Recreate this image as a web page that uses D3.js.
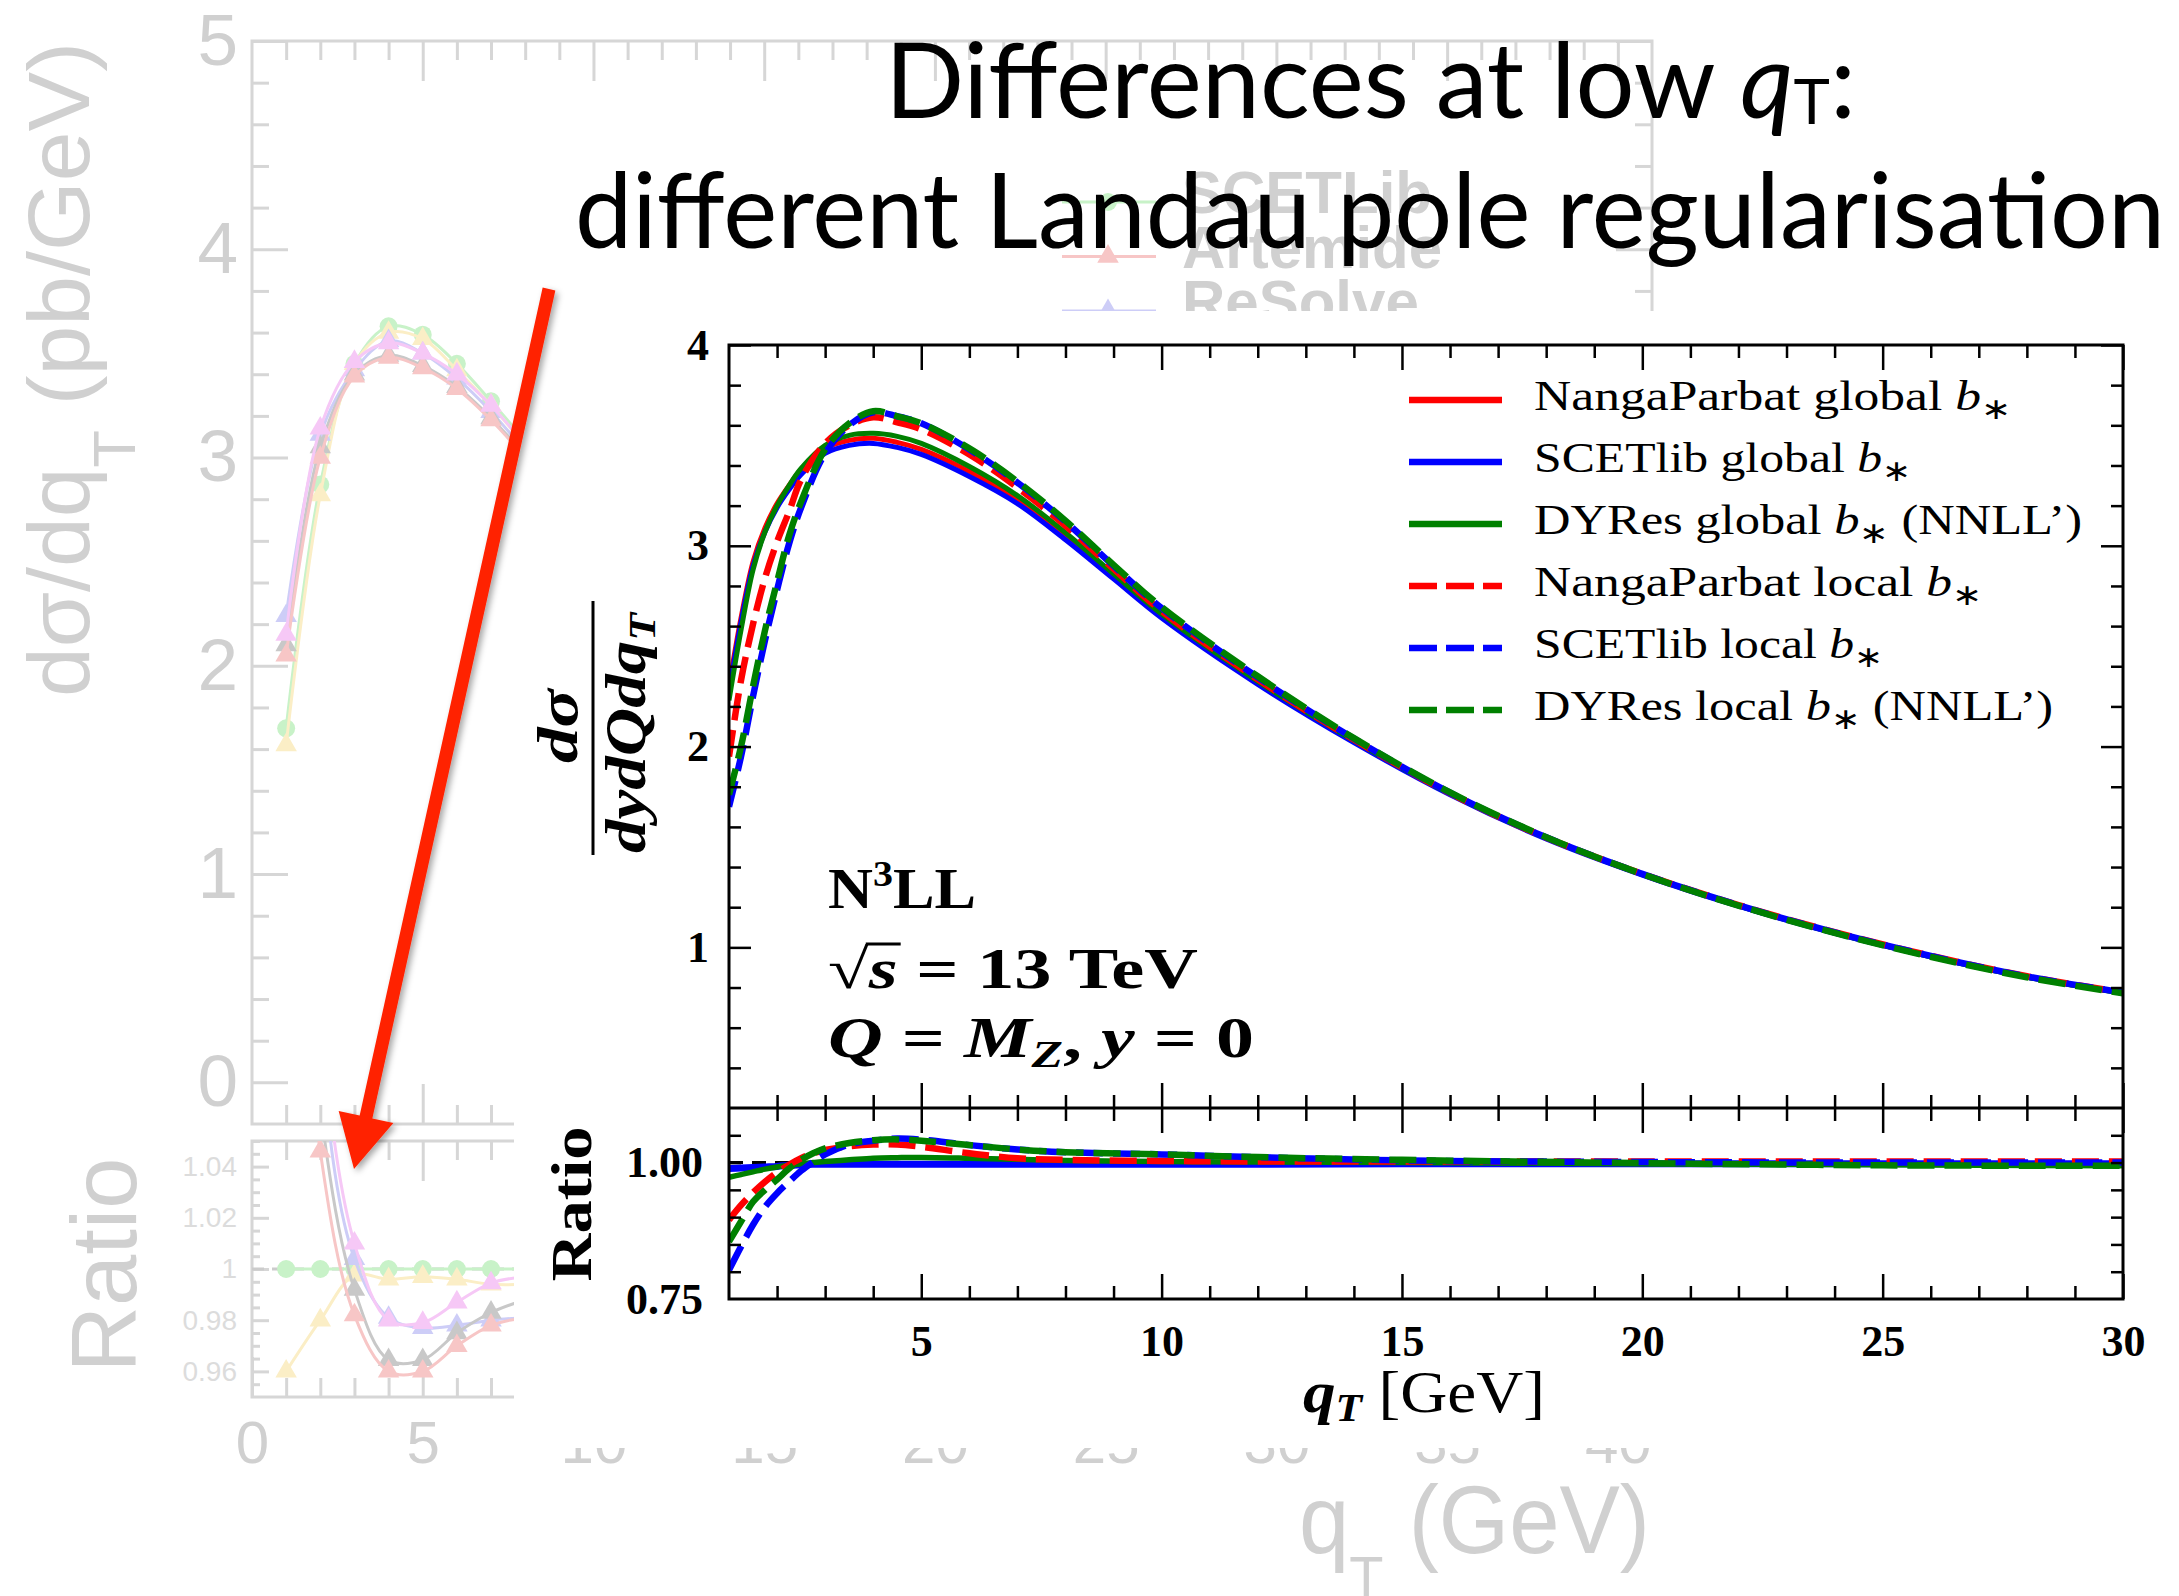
<!DOCTYPE html>
<html><head><meta charset="utf-8">
<script src="https://cdn.jsdelivr.net/npm/d3@7"></script>
<style>html,body{margin:0;padding:0;background:#fff;}svg{display:block;}</style>
</head><body>
<svg id="c" width="2179" height="1596"></svg>
<script>
// ================= DATA : main figure =================
const qT = [1, 1.25, 1.5, 1.75, 2, 2.25, 2.5, 3, 3.5, 4, 4.5, 5, 6, 7, 8, 9, 10, 12, 14, 16, 18, 20, 22, 24, 26, 28, 30];
const npGlobal    = [2.30, 2.64, 2.92, 3.09, 3.21, 3.30, 3.38, 3.485, 3.525, 3.535, 3.515, 3.48, 3.37, 3.23, 3.05, 2.85, 2.65, 2.32, 2.03, 1.765, 1.545, 1.365, 1.21, 1.075, 0.957, 0.855, 0.775];
const scetGlobal  = [2.27, 2.62, 2.90, 3.07, 3.19, 3.28, 3.355, 3.46, 3.50, 3.51, 3.49, 3.455, 3.345, 3.21, 3.03, 2.835, 2.64, 2.31, 2.02, 1.76, 1.54, 1.36, 1.205, 1.07, 0.953, 0.852, 0.772];
const dyresGlobal = [2.23, 2.58, 2.88, 3.07, 3.20, 3.30, 3.385, 3.50, 3.55, 3.56, 3.545, 3.51, 3.395, 3.25, 3.065, 2.86, 2.66, 2.325, 2.03, 1.765, 1.545, 1.363, 1.207, 1.071, 0.953, 0.851, 0.771];
const npLocal     = [1.95, 2.33, 2.61, 2.84, 3.02, 3.17, 3.33, 3.51, 3.60, 3.64, 3.615, 3.58, 3.455, 3.29, 3.10, 2.885, 2.675, 2.335, 2.035, 1.768, 1.547, 1.366, 1.211, 1.076, 0.958, 0.856, 0.776];
const scetLocal   = [1.70, 1.95, 2.25, 2.53, 2.78, 3.01, 3.19, 3.46, 3.60, 3.665, 3.645, 3.61, 3.48, 3.315, 3.12, 2.90, 2.69, 2.345, 2.04, 1.77, 1.548, 1.366, 1.21, 1.075, 0.957, 0.855, 0.775];
const dyresLocal  = [1.76, 2.00, 2.30, 2.58, 2.82, 3.05, 3.22, 3.48, 3.61, 3.67, 3.645, 3.61, 3.485, 3.32, 3.125, 2.905, 2.695, 2.35, 2.042, 1.772, 1.549, 1.365, 1.208, 1.072, 0.953, 0.851, 0.771];

const qTRatio = [1, 1.25, 1.5, 1.75, 2, 2.25, 2.5, 2.75, 3, 3.5, 4, 4.5, 5, 6, 7, 8, 10, 12, 15, 20, 25, 30];
const ratioScetGlobal  = [0.989, 0.990, 0.991, 0.992, 0.993, 0.995, 0.996, 0.997, 0.997, 0.997, 0.997, 0.997, 0.997, 0.997, 0.997, 0.997, 0.997, 0.997, 0.998, 0.998, 0.998, 0.998];
const ratioDyresGlobal = [0.973, 0.978, 0.983, 0.988, 0.992, 0.995, 0.998, 1.000, 1.002, 1.005, 1.008, 1.009, 1.0095, 1.008, 1.006, 1.004, 1.002, 1.001, 1.000, 0.998, 0.996, 0.994];
const ratioNPLocal     = [0.895, 0.922, 0.945, 0.965, 0.982, 0.996, 1.008, 1.017, 1.023, 1.030, 1.033, 1.033, 1.029, 1.017, 1.008, 1.005, 1.003, 1.002, 1.002, 1.002, 1.002, 1.002];
const ratioScetLocal   = [0.803, 0.846, 0.886, 0.919, 0.944, 0.965, 0.985, 1.001, 1.015, 1.033, 1.040, 1.044, 1.042, 1.032, 1.024, 1.019, 1.015, 1.010, 1.004, 1.001, 1.000, 1.000];
const ratioDyresLocal  = [0.855, 0.892, 0.928, 0.950, 0.969, 0.989, 1.005, 1.017, 1.026, 1.036, 1.041, 1.0425, 1.040, 1.032, 1.024, 1.019, 1.015, 1.010, 1.005, 0.999, 0.995, 0.994];
const ratioReference = 1.0;

const xTicksMain = [5, 10, 15, 20, 25, 30];
const yTicksMain = [1, 2, 3, 4];
const ratioTickLabels = [0.75, 1.00];
const ratioMinorTicks = [0.8, 0.85, 0.9, 0.95, 1.0, 1.05];
const legendNames = ["NangaParbat global", "SCETlib global", "DYRes global", "NangaParbat local", "SCETlib local", "DYRes local"];
const legendSuffix = ["", "", " (NNLL\u2019)", "", "", " (NNLL\u2019)"];

// ================= DATA : faded background figure =================
const bgQT = [1, 2, 3, 4, 5, 6, 7, 8];
const bgSCETlib  = [1.70, 2.87, 3.45, 3.63, 3.59, 3.45, 3.27, 3.08];
const bgYellow   = [1.62, 2.82, 3.45, 3.60, 3.57, 3.42, 3.25, 3.06];
const bgBlue     = [2.24, 3.11, 3.42, 3.56, 3.50, 3.38, 3.22, 3.03];
const bgPink     = [2.15, 3.14, 3.46, 3.55, 3.50, 3.40, 3.25, 3.06];
const bgGrey     = [2.10, 3.05, 3.40, 3.49, 3.44, 3.34, 3.19, 3.01];
const bgRed      = [2.05, 3.00, 3.39, 3.48, 3.43, 3.33, 3.18, 3.00];
const bgRatioSCETlib = [1, 1, 1, 1, 1, 1, 1, 1];
const bgRatioYellow  = [0.960, 0.980, 0.9975, 0.996, 0.997, 0.996, 0.994, 0.994];
const bgRatioBlue    = [1.32, 1.084, 1.004, 0.981, 0.977, 0.978, 0.980, 0.981];
const bgRatioPink    = [1.26, 1.094, 1.010, 0.980, 0.979, 0.987, 0.9945, 0.997];
const bgRatioGrey    = [1.24, 1.063, 0.992, 0.9645, 0.9645, 0.975, 0.983, 0.988];
const bgRatioRed     = [1.21, 1.046, 0.982, 0.960, 0.960, 0.970, 0.978, 0.981];
const bgXTicks = [0, 5, 10, 15, 20, 25, 30, 35, 40];
const bgYTicks = [0, 1, 2, 3, 4, 5];
const bgRatioTicks = [0.96, 0.98, 1, 1.02, 1.04];
const bgLegend = ["SCETLib", "Artemide", "ReSolve"];

// ================= DRAWING =================
const svg = d3.select("#c");
const SERIF = "'Liberation Serif','Times New Roman',serif";
const SANS = "'Liberation Sans',Arial,Helvetica,sans-serif";
const RED = "#ff0000", BLUE = "#0000ff", GREEN = "#008000";
const defs = svg.append("defs");

function styleAxis(g, o) {
  g.select(".domain").remove();
  g.attr("font-family", null).attr("font-size", null);
  g.selectAll(".tick line").attr("stroke", o.color).attr("stroke-width", o.sw);
  g.selectAll(".tick text").attr("fill", o.tc || o.color)
    .style("font-family", o.font || SERIF).style("font-size", (o.fs || 40) + "px")
    .style("font-weight", o.fw || "normal");
  return g;
}
const notInt = (v, step) => Math.abs(v / step - Math.round(v / step)) > 1e-6;

// ---------- background figure (faded) ----------
const GC = "#d6d6d6", GT = "#d0d0d0";
const gx = d3.scaleLinear().domain([0, 41]).range([252, 1652]);
const gy = d3.scaleLinear().domain([-0.2, 5]).range([1124, 41]);
const gr = d3.scaleLinear().domain([0.95, 1.05]).range([1397, 1141]);
const bg = svg.append("g");

bg.append("rect").attr("x", gx(0)).attr("y", gy(5)).attr("width", gx(41) - gx(0)).attr("height", gy(-0.2) - gy(5))
  .attr("fill", "none").attr("stroke", GC).attr("stroke-width", 3);
bg.append("rect").attr("x", gx(0)).attr("y", gr(1.05)).attr("width", gx(41) - gx(0)).attr("height", gr(0.95) - gr(1.05))
  .attr("fill", "none").attr("stroke", GC).attr("stroke-width", 3);

const gMinorY = d3.range(-0.2, 5.001, 0.2).filter(v => notInt(v, 1) && v > -0.1);
const gMinorX = d3.range(1, 41).filter(v => v % 5 !== 0);
const gMajX = d3.range(5, 41, 5);
const gso = { color: GC, sw: 3, tc: GT, font: SANS };
styleAxis(bg.append("g").attr("transform", `translate(${gx(0)},0)`).call(d3.axisLeft(gy).tickValues(bgYTicks).tickSize(-36).tickPadding(14).tickFormat(d3.format("d"))), { ...gso, fs: 73 });
styleAxis(bg.append("g").attr("transform", `translate(${gx(0)},0)`).call(d3.axisLeft(gy).tickValues(gMinorY).tickSize(-17).tickFormat("")), gso);
styleAxis(bg.append("g").attr("transform", `translate(${gx(41)},0)`).call(d3.axisRight(gy).tickValues(bgYTicks).tickSize(-36).tickFormat("")), gso);
styleAxis(bg.append("g").attr("transform", `translate(${gx(41)},0)`).call(d3.axisRight(gy).tickValues(gMinorY).tickSize(-17).tickFormat("")), gso);
[[gy(5), d3.axisTop], [gy(-0.2), d3.axisBottom], [gr(1.05), d3.axisTop]].forEach(([y, A]) => {
  styleAxis(bg.append("g").attr("transform", `translate(0,${y})`).call(A(gx).tickValues(gMajX).tickSize(-40).tickFormat("")), gso);
  styleAxis(bg.append("g").attr("transform", `translate(0,${y})`).call(A(gx).tickValues(gMinorX).tickSize(-19).tickFormat("")), gso);
});
styleAxis(bg.append("g").attr("transform", `translate(0,${gr(0.95)})`).call(d3.axisBottom(gx).tickValues(bgXTicks).tickSize(-40).tickPadding(23).tickFormat(d3.format("d"))), { ...gso, fs: 60 });
styleAxis(bg.append("g").attr("transform", `translate(0,${gr(0.95)})`).call(d3.axisBottom(gx).tickValues(gMinorX).tickSize(-19).tickFormat("")), gso);
styleAxis(bg.append("g").attr("transform", `translate(${gx(0)},0)`).call(d3.axisLeft(gr).tickValues(bgRatioTicks).tickSize(-17).tickPadding(15).tickFormat(d => d === 1 ? "1" : d.toFixed(2))), { ...gso, fs: 28, tc: "#dcdcdc" });
styleAxis(bg.append("g").attr("transform", `translate(${gx(0)},0)`).call(d3.axisLeft(gr).tickValues(d3.range(0.955, 1.05, 0.005).filter(v => notInt(v, 0.02))).tickSize(-8).tickFormat("")), gso);

// background titles
bg.append("text").attr("transform", "translate(89,697) rotate(-90)").attr("fill", GT)
  .style("font-family", SANS).style("font-size", "88px").attr("textLength", 655).attr("lengthAdjust", "spacingAndGlyphs")
  .call(t => { t.append("tspan").text("d\u03c3/dq"); t.append("tspan").attr("dy", 46).style("font-size", "60px").text("T");
               t.append("tspan").attr("dy", -46).text(" (pb/GeV)"); });
bg.append("text").attr("transform", "translate(136,1265) rotate(-90)").attr("text-anchor", "middle").attr("fill", GT)
  .style("font-family", SANS).style("font-size", "92px").text("Ratio");
bg.append("text").attr("x", 1299).attr("y", 1553).attr("fill", GT).style("font-family", SANS).style("font-size", "97px")
  .attr("textLength", 351).attr("lengthAdjust", "spacingAndGlyphs")
  .call(t => { t.append("tspan").text("q"); t.append("tspan").attr("dy", 45).style("font-size", "60px").text("T");
               t.append("tspan").attr("dy", -45).text(" (GeV)"); });

// background curves
defs.append("clipPath").attr("id", "bgclipTop").append("rect").attr("x", gx(0)).attr("y", gy(5)).attr("width", gx(41) - gx(0)).attr("height", gy(-0.2) - gy(5));
defs.append("clipPath").attr("id", "bgclipRat").append("rect").attr("x", gx(0)).attr("y", gr(1.05)).attr("width", gx(41) - gx(0)).attr("height", gr(0.95) - gr(1.05));
bg.append("line").attr("x1", gx(0)).attr("x2", gx(41)).attr("y1", gr(1)).attr("y2", gr(1))
  .attr("stroke", "#cccccc").attr("stroke-width", 3).attr("stroke-dasharray", "12,8");
const bgSeries = [
  { v: bgSCETlib, r: bgRatioSCETlib, c: "#c8f2c8", m: "circle" },
  { v: bgYellow, r: bgRatioYellow, c: "#fbeec6", m: "tri" },
  { v: bgBlue, r: bgRatioBlue, c: "#cdcdf7", m: "tri" },
  { v: bgGrey, r: bgRatioGrey, c: "#c8c8c8", m: "tri" },
  { v: bgRed, r: bgRatioRed, c: "#f7c6c6", m: "tri" },
  { v: bgPink, r: bgRatioPink, c: "#f6c8f6", m: "tri" }
];
const tri = d3.symbol().type(d3.symbolTriangle).size(200);
function bgDraw(layer, arr, ys, s) {
  const pts = bgQT.map((q, i) => [gx(q), ys(arr[i])]);
  layer.append("path").attr("d", d3.line().curve(d3.curveCatmullRom)(pts)).attr("fill", "none").attr("stroke", s.c).attr("stroke-width", 3);
  pts.forEach(p => {
    if (s.m === "circle") layer.append("circle").attr("cx", p[0]).attr("cy", p[1]).attr("r", 9).attr("fill", s.c);
    else layer.append("path").attr("d", tri).attr("transform", `translate(${p[0]},${p[1]})`).attr("fill", s.c);
  });
}
const bgTop = bg.append("g").attr("clip-path", "url(#bgclipTop)");
const bgRat = bg.append("g").attr("clip-path", "url(#bgclipRat)");
bgSeries.forEach(s => { bgDraw(bgTop, s.v, gy, s); bgDraw(bgRat, s.r, gr, s); });

// background legend
const bgLegCol = ["#c8f2c8", "#f7c6c6", "#cdcdf7"];
bgLegend.forEach((name, i) => {
  const yb = 213 + i * 54.5;
  bg.append("line").attr("x1", 1062).attr("x2", 1156).attr("y1", yb - 11).attr("y2", yb - 11).attr("stroke", bgLegCol[i]).attr("stroke-width", 3);
  if (i === 0) bg.append("circle").attr("cx", 1108).attr("cy", yb - 11).attr("r", 9).attr("fill", bgLegCol[i]);
  else bg.append("path").attr("d", tri).attr("transform", `translate(1108,${yb - 11})`).attr("fill", bgLegCol[i]);
  bg.append("text").attr("x", 1182).attr("y", yb).attr("fill", GT).style("font-family", SANS)
    .style("font-weight", "bold").style("font-size", "60px").text(name);
});

// ---------- white panel of the main figure ----------
svg.append("rect").attr("x", 514).attr("y", 311).attr("width", 2179 - 514).attr("height", 1448 - 311).attr("fill", "#ffffff");

// ---------- main figure ----------
const xM = d3.scaleLinear().domain([1, 30]).range([729, 2123]);
const yM = d3.scaleLinear().domain([0.2, 4]).range([1108, 345]);
const yR = d3.scaleLinear().domain([0.75, 1.10]).range([1299, 1108]);
const mg = svg.append("g");
defs.append("clipPath").attr("id", "clipM").append("rect").attr("x", xM(1)).attr("y", yM(4)).attr("width", xM(30) - xM(1)).attr("height", yM(0.2) - yM(4));
defs.append("clipPath").attr("id", "clipR").append("rect").attr("x", xM(1)).attr("y", yR(1.10)).attr("width", xM(30) - xM(1)).attr("height", yR(0.75) - yR(1.10));

const DASH = "27,10";
mg.append("line").attr("x1", xM(1)).attr("x2", xM(30)).attr("y1", yR(ratioReference)).attr("y2", yR(ratioReference))
  .attr("stroke", "#000").attr("stroke-width", 3).attr("stroke-dasharray", "14,9");

const mainSeries = [
  { v: npGlobal, c: RED, d: false }, { v: scetGlobal, c: BLUE, d: false }, { v: dyresGlobal, c: GREEN, d: false },
  { v: npLocal, c: RED, d: true }, { v: scetLocal, c: BLUE, d: true }, { v: dyresLocal, c: GREEN, d: true }
];
const lineM = d3.line().x((d, i) => xM(qT[i])).y(d => yM(d)).curve(d3.curveCatmullRom);
const gM = mg.append("g").attr("clip-path", "url(#clipM)");
mainSeries.forEach(s => {
  gM.append("path").attr("d", lineM(s.v)).attr("fill", "none").attr("stroke", s.c)
    .attr("stroke-width", s.d ? 6.5 : 5).attr("stroke-dasharray", s.d ? DASH : null);
});
const ratioSeries = [
  { v: ratioScetGlobal, c: BLUE, d: false, w: 7 }, { v: ratioDyresGlobal, c: GREEN, d: false, w: 5.5 },
  { v: ratioNPLocal, c: RED, d: true, w: 6.5 }, { v: ratioScetLocal, c: BLUE, d: true, w: 6.5 }, { v: ratioDyresLocal, c: GREEN, d: true, w: 6.5 }
];
const lineR = d3.line().x((d, i) => xM(qTRatio[i])).y(d => yR(d)).curve(d3.curveCatmullRom);
const gR = mg.append("g").attr("clip-path", "url(#clipR)");
ratioSeries.forEach(s => {
  gR.append("path").attr("d", lineR(s.v)).attr("fill", "none").attr("stroke", s.c)
    .attr("stroke-width", s.w).attr("stroke-dasharray", s.d ? DASH : null);
});

// frames
mg.append("rect").attr("x", xM(1)).attr("y", yM(4)).attr("width", xM(30) - xM(1)).attr("height", yR(0.75) - yM(4))
  .attr("fill", "none").attr("stroke", "#000").attr("stroke-width", 3);
mg.append("line").attr("x1", xM(1)).attr("x2", xM(30)).attr("y1", yM(0.2)).attr("y2", yM(0.2)).attr("stroke", "#000").attr("stroke-width", 3);

// axes
const mso = { color: "#000", sw: 2.5, tc: "#000", font: SERIF, fs: 44, fw: "bold" };
const minorX = d3.range(2, 30).filter(v => v % 5 !== 0);
const minorY = d3.range(0.4, 3.81, 0.2).filter(v => notInt(v, 1));
styleAxis(mg.append("g").attr("transform", `translate(${xM(1)},0)`).call(d3.axisLeft(yM).tickValues(yTicksMain).tickSize(-22).tickPadding(20).tickFormat(d3.format("d"))), mso);
styleAxis(mg.append("g").attr("transform", `translate(${xM(1)},0)`).call(d3.axisLeft(yM).tickValues(minorY).tickSize(-12).tickFormat("")), mso);
styleAxis(mg.append("g").attr("transform", `translate(${xM(30)},0)`).call(d3.axisRight(yM).tickValues(yTicksMain).tickSize(-22).tickFormat("")), mso);
styleAxis(mg.append("g").attr("transform", `translate(${xM(30)},0)`).call(d3.axisRight(yM).tickValues(minorY).tickSize(-12).tickFormat("")), mso);
[[yM(4), d3.axisTop], [yM(0.2), d3.axisBottom], [yR(1.10), d3.axisTop]].forEach(([y, A]) => {
  styleAxis(mg.append("g").attr("transform", `translate(0,${y})`).call(A(xM).tickValues(xTicksMain).tickSize(-25).tickFormat("")), mso);
  styleAxis(mg.append("g").attr("transform", `translate(0,${y})`).call(A(xM).tickValues(minorX).tickSize(-13).tickFormat("")), mso);
});
styleAxis(mg.append("g").attr("transform", `translate(0,${yR(0.75)})`).call(d3.axisBottom(xM).tickValues(xTicksMain).tickSize(-25).tickPadding(26).tickFormat(d3.format("d"))), mso);
styleAxis(mg.append("g").attr("transform", `translate(0,${yR(0.75)})`).call(d3.axisBottom(xM).tickValues(minorX).tickSize(-13).tickFormat("")), mso);
styleAxis(mg.append("g").attr("transform", `translate(${xM(1)},0)`).call(d3.axisLeft(yR).tickValues(ratioMinorTicks).tickSize(-12).tickFormat("")), mso);
styleAxis(mg.append("g").attr("transform", `translate(${xM(1)},0)`).call(d3.axisLeft(yR).tickValues(ratioTickLabels).tickSize(0).tickPadding(26).tickFormat(d3.format(".2f"))), mso);
styleAxis(mg.append("g").attr("transform", `translate(${xM(30)},0)`).call(d3.axisRight(yR).tickValues(ratioMinorTicks).tickSize(-12).tickFormat("")), mso);

// axis titles
const fr = mg.append("g").attr("transform", "translate(593,728) rotate(-90)");
fr.append("line").attr("x1", -127).attr("x2", 127).attr("y1", 0).attr("y2", 0).attr("stroke", "#000").attr("stroke-width", 3);
fr.append("text").attr("x", 2).attr("y", -16).attr("text-anchor", "middle").style("font-family", SERIF).style("font-size", "56px")
  .style("font-weight", "bold").style("font-style", "italic").attr("textLength", 74).attr("lengthAdjust", "spacingAndGlyphs").text("d\u03c3");
fr.append("text").attr("x", -5).attr("y", 52).attr("text-anchor", "middle").style("font-family", SERIF).style("font-size", "56px")
  .style("font-weight", "bold").style("font-style", "italic").attr("textLength", 240).attr("lengthAdjust", "spacingAndGlyphs")
  .call(t => { t.append("tspan").text("dydQdq"); t.append("tspan").attr("dy", 10).style("font-size", "38px").text("T"); });
mg.append("text").attr("transform", "translate(591,1204) rotate(-90)").attr("text-anchor", "middle")
  .style("font-family", SERIF).style("font-size", "58px").style("font-weight", "bold")
  .attr("textLength", 155).attr("lengthAdjust", "spacingAndGlyphs").text("Ratio");
mg.append("text").attr("x", 1303).attr("y", 1412).style("font-family", SERIF).style("font-size", "60px")
  .attr("textLength", 242).attr("lengthAdjust", "spacingAndGlyphs")
  .call(t => {
    t.append("tspan").style("font-weight", "bold").style("font-style", "italic").text("q");
    t.append("tspan").attr("dy", 9).style("font-weight", "bold").style("font-style", "italic").style("font-size", "40px").text("T");
    t.append("tspan").attr("dy", -9).text(" [GeV]");
  });

// annotation
const ann = mg.append("g").style("font-family", SERIF).style("font-size", "56px").style("font-weight", "bold");
ann.append("text").attr("x", 828).attr("y", 908).attr("textLength", 148).attr("lengthAdjust", "spacingAndGlyphs")
  .call(t => { t.append("tspan").text("N"); t.append("tspan").attr("dy", -22).style("font-size", "36px").text("3");
               t.append("tspan").attr("dy", 22).text("LL"); });
const sq = ann.append("text").attr("x", 828).attr("y", 988).attr("textLength", 370).attr("lengthAdjust", "spacingAndGlyphs")
  .call(t => { t.append("tspan").style("font-weight", "normal").text("\u221a"); t.append("tspan").style("font-style", "italic").text("s");
               t.append("tspan").text(" = 13 TeV"); });
ann.append("text").attr("x", 828).attr("y", 1057).attr("textLength", 426).attr("lengthAdjust", "spacingAndGlyphs")
  .call(t => {
    t.append("tspan").style("font-style", "italic").text("Q"); t.append("tspan").text(" = ");
    t.append("tspan").style("font-style", "italic").text("M");
    t.append("tspan").attr("dy", 10).style("font-style", "italic").style("font-size", "38px").text("Z");
    t.append("tspan").attr("dy", -10).text(", "); t.append("tspan").style("font-style", "italic").text("y");
    t.append("tspan").text(" = 0");
  });
try {
  const n = sq.node(); const e0 = n.getExtentOfChar(0), e1 = n.getExtentOfChar(1);
  ann.append("line").attr("x1", e0.x + e0.width - 3).attr("x2", e1.x + e1.width + 3)
    .attr("y1", e0.y + 6).attr("y2", e0.y + 6).attr("stroke", "#000").attr("stroke-width", 3);
} catch (err) {}

// legend
const legColor = [RED, BLUE, GREEN, RED, BLUE, GREEN];
const legDashed = [false, false, false, true, true, true];
const legWidth = [477, 377, 548, 448, 349, 519];
legendNames.forEach((name, i) => {
  const yb = 410 + i * 62;
  mg.append("line").attr("x1", 1409).attr("x2", 1502).attr("y1", yb - 10).attr("y2", yb - 10)
    .attr("stroke", legColor[i]).attr("stroke-width", 6.5).attr("stroke-dasharray", legDashed[i] ? "28,9" : null);
  mg.append("text").attr("x", 1534).attr("y", yb).style("font-family", SERIF).style("font-size", "43px")
    .attr("textLength", legWidth[i]).attr("lengthAdjust", "spacingAndGlyphs")
    .call(t => {
      t.append("tspan").text(name + " ");
      t.append("tspan").style("font-style", "italic").text("b");
      t.append("tspan").attr("dy", 9).style("font-size", "30px").text("\u2217");
      if (legendSuffix[i]) t.append("tspan").attr("dy", -9).text(legendSuffix[i]);
    });
});

// ---------- slide title ----------
const TF = "Lato,'Open Sans',sans-serif";
svg.append("text").attr("x", 885).attr("y", 118).style("font-family", TF).style("font-size", "105px")
  .attr("textLength", 971).attr("lengthAdjust", "spacingAndGlyphs")
  .call(t => {
    t.append("tspan").text("Differences at low ");
    t.append("tspan").style("font-style", "italic").text("q");
    t.append("tspan").attr("dy", 6).style("font-size", "62px").text("T");
    t.append("tspan").attr("dy", -6).text(":");
  });
svg.append("text").attr("x", 575).attr("y", 248).style("font-family", TF).style("font-size", "105px")
  .attr("textLength", 1590).attr("lengthAdjust", "spacingAndGlyphs").text("different Landau pole regularisation");

// ---------- red arrow ----------
const f = defs.append("filter").attr("id", "shadow").attr("x", "-20%").attr("y", "-20%").attr("width", "140%").attr("height", "140%");
f.append("feDropShadow").attr("dx", 3).attr("dy", 3).attr("stdDeviation", 3).attr("flood-color", "#000").attr("flood-opacity", 0.35);
const S = [549, 289], B = [366, 1117], P = [354, 1169], hw = 6.5, HW = 28;
const L = Math.hypot(B[0] - S[0], B[1] - S[1]);
const u = [(B[0] - S[0]) / L, (B[1] - S[1]) / L], nrm = [-u[1], u[0]];
const pt = (a, k) => [a[0] + nrm[0] * k, a[1] + nrm[1] * k];
const arrowPts = [pt(S, hw), pt(B, hw), pt(B, HW), P, pt(B, -HW), pt(B, -hw), pt(S, -hw)];
svg.append("path").attr("d", "M" + arrowPts.map(p => p.join(",")).join("L") + "Z")
  .attr("fill", "#ff2200").attr("filter", "url(#shadow)");
</script>
</body></html>
